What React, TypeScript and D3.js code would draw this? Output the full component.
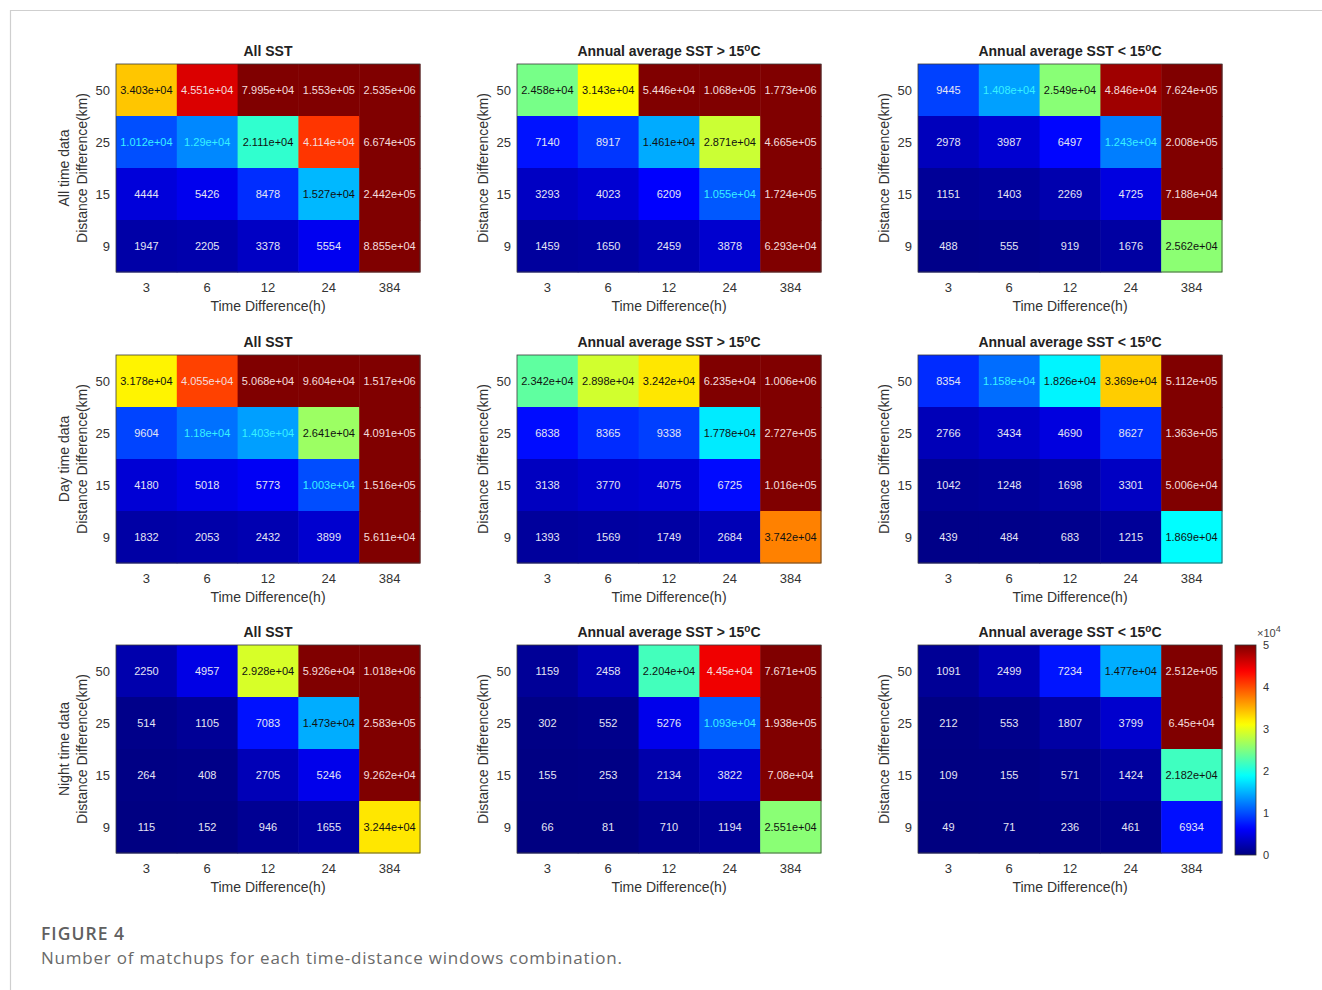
import React from "react";
import * as d3 from "d3";

const timeLabels = ["3", "6", "12", "24", "384"];
const distLabels = ["50", "25", "15", "9"];
const rowLabels = ["All time data", "Day time data", "Night time data"];
const colTitles = ["All SST", "Annual average SST > 15", "Annual average SST < 15"];
const colTitleSuffix = [false, true, true];
const colorTicks = [0, 1, 2, 3, 4, 5];
const colorMax = 5e4;

// rows: distance 50, 25, 15, 9 ; columns: time 3, 6, 12, 24, 384
const allTimeAll = [
  [34030, 45510, 79950, 155300, 2535000],
  [10120, 12900, 21110, 41140, 667400],
  [4444, 5426, 8478, 15270, 244200],
  [1947, 2205, 3378, 5554, 88550],
];
const allTimeWarm = [
  [24580, 31430, 54460, 106800, 1773000],
  [7140, 8917, 14610, 28710, 466500],
  [3293, 4023, 6209, 10550, 172400],
  [1459, 1650, 2459, 3878, 62930],
];
const allTimeCold = [
  [9445, 14080, 25490, 48460, 762400],
  [2978, 3987, 6497, 12430, 200800],
  [1151, 1403, 2269, 4725, 71880],
  [488, 555, 919, 1676, 25620],
];
const dayAll = [
  [31780, 40550, 50680, 96040, 1517000],
  [9604, 11800, 14030, 26410, 409100],
  [4180, 5018, 5773, 10030, 151600],
  [1832, 2053, 2432, 3899, 56110],
];
const dayWarm = [
  [23420, 28980, 32420, 62350, 1006000],
  [6838, 8365, 9338, 17780, 272700],
  [3138, 3770, 4075, 6725, 101600],
  [1393, 1569, 1749, 2684, 37420],
];
const dayCold = [
  [8354, 11580, 18260, 33690, 511200],
  [2766, 3434, 4690, 8627, 136300],
  [1042, 1248, 1698, 3301, 50060],
  [439, 484, 683, 1215, 18690],
];
const nightAll = [
  [2250, 4957, 29280, 59260, 1018000],
  [514, 1105, 7083, 14730, 258300],
  [264, 408, 2705, 5246, 92620],
  [115, 152, 946, 1655, 32440],
];
const nightWarm = [
  [1159, 2458, 22040, 44500, 767100],
  [302, 552, 5276, 10930, 193800],
  [155, 253, 2134, 3822, 70800],
  [66, 81, 710, 1194, 25510],
];
const nightCold = [
  [1091, 2499, 7234, 14770, 251200],
  [212, 553, 1807, 3799, 64500],
  [109, 155, 571, 1424, 21820],
  [49, 71, 236, 461, 6934],
];

const panels = [
  [allTimeAll, allTimeWarm, allTimeCold],
  [dayAll, dayWarm, dayCold],
  [nightAll, nightWarm, nightCold],
];

const FONT = "Arial, 'Liberation Sans', sans-serif";
const colX0 = [116, 517, 918];
const rowY0 = [64, 355, 645];
const plotW = 304;
const plotH = 208;

function clamp01(v: number) {
  return Math.max(0, Math.min(1, v));
}
function jet(t: number) {
  const r = clamp01(Math.min(4 * t - 1.5, -4 * t + 4.5));
  const g = clamp01(Math.min(4 * t - 0.5, -4 * t + 3.5));
  const b = clamp01(Math.min(4 * t + 0.5, -4 * t + 2.5));
  return d3.rgb(r * 255, g * 255, b * 255).formatHex();
}
const colorScale = (v: number) => jet(clamp01(v / colorMax));

function fmt(v: number) {
  if (v < 1e4) return String(Math.round(v));
  const e = Math.floor(Math.log10(v));
  const m = v / Math.pow(10, e);
  const s = String(parseFloat(m.toPrecision(4)));
  return s + "e+" + String(e).padStart(2, "0");
}
function textColor(v: number) {
  if (v < 1e4) return "#e4e4f4";
  if (v < 1.45e4) return "#38f0ff";
  if (v < 4e4) return "#111";
  return "#f4dcdc";
}

function Panel({ data, ri, ci }: { data: number[][]; ri: number; ci: number }) {
  const x0 = colX0[ci];
  const y0 = rowY0[ri];
  const x = d3.scaleBand<string>().domain(timeLabels).range([x0, x0 + plotW]);
  const y = d3.scaleBand<string>().domain(distLabels).range([y0, y0 + plotH]);
  const cx = x0 + plotW / 2;
  const cy = y0 + plotH / 2;
  return (
    <g>
      <text x={cx} y={y0 - 8} textAnchor="middle" fontFamily={FONT} fontSize={14} fontWeight="bold" fill="#222">
        {colTitles[ci]}
        {colTitleSuffix[ci] && (
          <>
            <tspan dy={-5} fontSize={10}>o</tspan>
            <tspan dy={5}>C</tspan>
          </>
        )}
      </text>
      {data.map((row, r) =>
        row.map((v, c) => (
          <rect
            key={`r${r}c${c}`}
            x={x(timeLabels[c])}
            y={y(distLabels[r])}
            width={x.bandwidth() + 0.5}
            height={y.bandwidth() + 0.5}
            fill={colorScale(v)}
          />
        ))
      )}
      {data.map((row, r) =>
        row.map((v, c) => (
          <text
            key={`t${r}c${c}`}
            x={(x(timeLabels[c]) as number) + x.bandwidth() / 2}
            y={(y(distLabels[r]) as number) + y.bandwidth() / 2}
            dy="0.35em"
            textAnchor="middle"
            fontFamily={FONT}
            fontSize={11}
            fill={textColor(v)}
          >
            {fmt(v)}
          </text>
        ))
      )}
      <rect x={x0} y={y0} width={plotW} height={plotH} fill="none" stroke="#3a3a3a" strokeWidth={0.8} />
      {distLabels.map((d) => (
        <text
          key={d}
          x={x0 - 6}
          y={(y(d) as number) + y.bandwidth() / 2}
          dy="0.35em"
          textAnchor="end"
          fontFamily={FONT}
          fontSize={13}
          fill="#333"
        >
          {d}
        </text>
      ))}
      {timeLabels.map((t) => (
        <text
          key={t}
          x={(x(t) as number) + x.bandwidth() / 2}
          y={y0 + plotH + 20}
          textAnchor="middle"
          fontFamily={FONT}
          fontSize={13}
          fill="#333"
        >
          {t}
        </text>
      ))}
      <text x={cx} y={y0 + plotH + 39} textAnchor="middle" fontFamily={FONT} fontSize={14} fill="#333">
        Time Difference(h)
      </text>
      <text
        transform={`translate(${x0 - 29},${cy}) rotate(-90)`}
        textAnchor="middle"
        fontFamily={FONT}
        fontSize={14}
        fill="#333"
      >
        Distance Difference(km)
      </text>
      {ci === 0 && (
        <text
          transform={`translate(${x0 - 47},${cy}) rotate(-90)`}
          textAnchor="middle"
          fontFamily={FONT}
          fontSize={14}
          fill="#333"
        >
          {rowLabels[ri]}
        </text>
      )}
    </g>
  );
}

function ColorBar() {
  const cbX = 1235;
  const cbW = 21;
  const cbTop = 645;
  const cbBot = 855;
  const s = d3.scaleLinear().domain([0, colorMax]).range([cbBot, cbTop]);
  const stops = d3.range(0, 1.0001, 0.02);
  return (
    <g>
      <defs>
        <linearGradient id="jetgrad" x1="0" y1="1" x2="0" y2="0">
          {stops.map((t) => (
            <stop key={t} offset={t} stopColor={jet(t)} />
          ))}
        </linearGradient>
      </defs>
      <rect x={cbX} y={cbTop} width={cbW} height={cbBot - cbTop} fill="url(#jetgrad)" stroke="#333" strokeWidth={0.8} />
      {colorTicks.map((t) => (
        <text key={t} x={cbX + cbW + 7} y={s(t * 1e4)} dy="0.35em" fontFamily={FONT} fontSize={11} fill="#333">
          {t}
        </text>
      ))}
      <text x={cbX + 22} y={637} fontFamily={FONT} fontSize={11} fill="#444">
        ×10
        <tspan dy={-5} fontSize={9}>4</tspan>
      </text>
    </g>
  );
}

export default function App() {
  return (
    <svg
      width={1322}
      height={990}
      style={{ position: "absolute", left: 0, top: 0, background: "#fff" }}
    >
      <rect x={0} y={0} width={1322} height={990} fill="#fff" />
      <line x1={10} y1={10.5} x2={1322} y2={10.5} stroke="#cfcfcf" strokeWidth={1.2} />
      <line x1={10.5} y1={10} x2={10.5} y2={990} stroke="#cfcfcf" strokeWidth={1.2} />
      {panels.map((row, ri) => row.map((data, ci) => <Panel key={`${ri}-${ci}`} data={data} ri={ri} ci={ci} />))}
      <ColorBar />
      <text
        x={41}
        y={940}
        fontFamily="'Open Sans', sans-serif"
        fontSize={17.5}
        fontWeight={600}
        fill="#606060"
        textLength={83}
        lengthAdjust="spacing"
      >
        FIGURE 4
      </text>
      <text
        x={41}
        y={964}
        fontFamily="'Open Sans', sans-serif"
        fontSize={17}
        fill="#6a6a6a"
        textLength={581}
        lengthAdjust="spacing"
      >
        Number of matchups for each time-distance windows combination.
      </text>
    </svg>
  );
}
